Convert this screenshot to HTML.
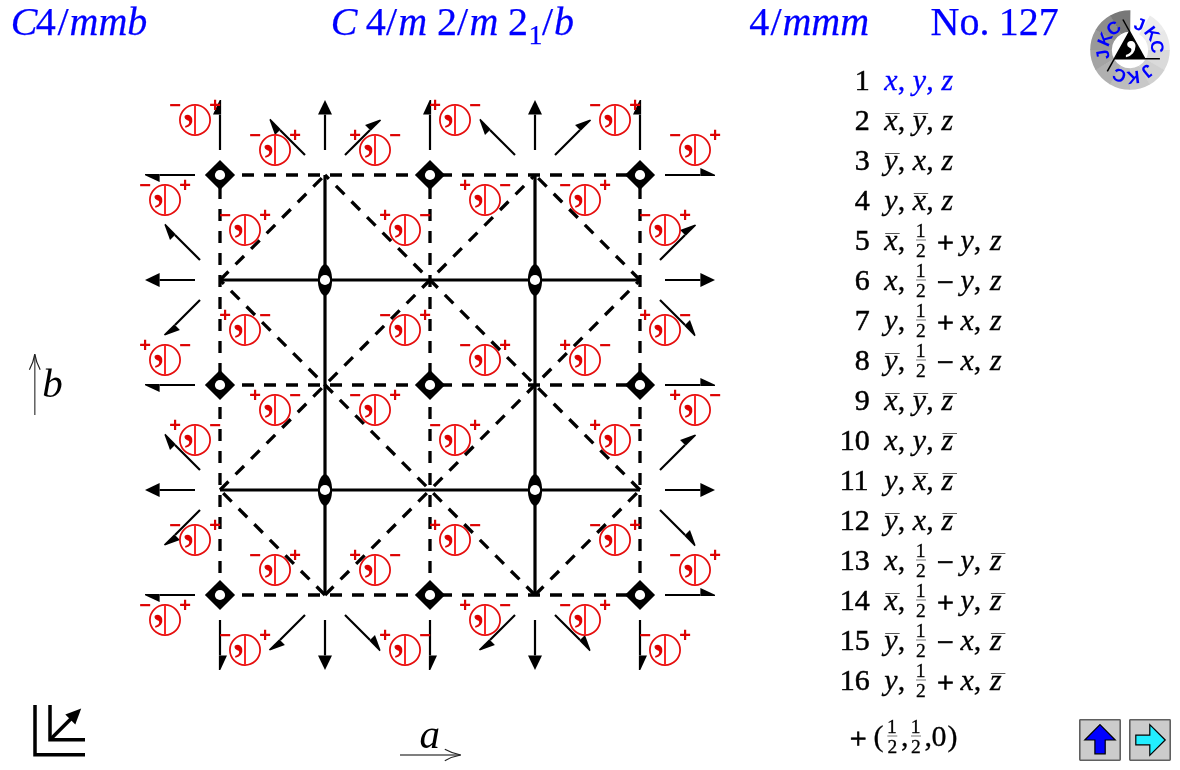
<!DOCTYPE html>
<html lang="en">
<head>
<meta charset="utf-8">
<title>C4/mmb - No. 127</title>
<style>
html,body{margin:0;padding:0;background:#fff;}
body{width:1180px;height:770px;position:relative;overflow:hidden;font-family:"Liberation Serif",serif;}
svg{position:absolute;left:0;top:0;}
</style>
</head>
<body>
<svg width="1180" height="770" viewBox="0 0 1180 770">
<g stroke="#000" stroke-width="3.3" stroke-dasharray="12 10" fill="none">
<line x1="220" y1="175" x2="640" y2="175"/>
<line x1="220" y1="385" x2="640" y2="385"/>
<line x1="220" y1="595" x2="640" y2="595"/>
<line x1="220" y1="595" x2="220" y2="175"/>
<line x1="430" y1="595" x2="430" y2="175"/>
<line x1="640" y1="595" x2="640" y2="175"/>
<line x1="220" y1="280" x2="325" y2="175"/>
<line x1="220" y1="490" x2="535" y2="175"/>
<line x1="325" y1="595" x2="640" y2="280"/>
<line x1="535" y1="595" x2="640" y2="490"/>
<line x1="640" y1="490" x2="325" y2="175"/>
<line x1="640" y1="280" x2="535" y2="175"/>
<line x1="535" y1="595" x2="220" y2="280"/>
<line x1="325" y1="595" x2="220" y2="490"/>
</g>
<g stroke="#000" stroke-width="3.2" fill="none">
<line x1="325" y1="175" x2="325" y2="595"/>
<line x1="535" y1="175" x2="535" y2="595"/>
<line x1="220" y1="280" x2="640" y2="280"/>
<line x1="220" y1="490" x2="640" y2="490"/>
</g>
<line x1="220" y1="150" x2="220" y2="114.6" stroke="#000" stroke-width="2.2"/>
<polygon points="221.1,100 219.7,100 213,114.6 221.1,114.6" fill="#000"/>
<line x1="220" y1="620" x2="220" y2="655.4" stroke="#000" stroke-width="2.2"/>
<polygon points="218.9,670 220.3,670 227,655.4 218.9,655.4" fill="#000"/>
<line x1="325" y1="150" x2="325" y2="114.6" stroke="#000" stroke-width="2.2"/>
<polygon points="325,100 318,114.6 332,114.6" fill="#000"/>
<line x1="325" y1="620" x2="325" y2="655.4" stroke="#000" stroke-width="2.2"/>
<polygon points="325,670 332,655.4 318,655.4" fill="#000"/>
<line x1="430" y1="150" x2="430" y2="114.6" stroke="#000" stroke-width="2.2"/>
<polygon points="431.1,100 429.7,100 423,114.6 431.1,114.6" fill="#000"/>
<line x1="430" y1="620" x2="430" y2="655.4" stroke="#000" stroke-width="2.2"/>
<polygon points="428.9,670 430.3,670 437,655.4 428.9,655.4" fill="#000"/>
<line x1="535" y1="150" x2="535" y2="114.6" stroke="#000" stroke-width="2.2"/>
<polygon points="535,100 528,114.6 542,114.6" fill="#000"/>
<line x1="535" y1="620" x2="535" y2="655.4" stroke="#000" stroke-width="2.2"/>
<polygon points="535,670 542,655.4 528,655.4" fill="#000"/>
<line x1="640" y1="150" x2="640" y2="114.6" stroke="#000" stroke-width="2.2"/>
<polygon points="641.1,100 639.7,100 633,114.6 641.1,114.6" fill="#000"/>
<line x1="640" y1="620" x2="640" y2="655.4" stroke="#000" stroke-width="2.2"/>
<polygon points="638.9,670 640.3,670 647,655.4 638.9,655.4" fill="#000"/>
<line x1="195" y1="175" x2="159.6" y2="175" stroke="#000" stroke-width="2.2"/>
<polygon points="145,173.9 145,175.3 159.6,182 159.6,173.9" fill="#000"/>
<line x1="665" y1="175" x2="700.4" y2="175" stroke="#000" stroke-width="2.2"/>
<polygon points="715,176.1 715,174.7 700.4,168 700.4,176.1" fill="#000"/>
<line x1="195" y1="280" x2="159.6" y2="280" stroke="#000" stroke-width="2.2"/>
<polygon points="145,280 159.6,287 159.6,273" fill="#000"/>
<line x1="665" y1="280" x2="700.4" y2="280" stroke="#000" stroke-width="2.2"/>
<polygon points="715,280 700.4,273 700.4,287" fill="#000"/>
<line x1="195" y1="385" x2="159.6" y2="385" stroke="#000" stroke-width="2.2"/>
<polygon points="145,383.9 145,385.3 159.6,392 159.6,383.9" fill="#000"/>
<line x1="665" y1="385" x2="700.4" y2="385" stroke="#000" stroke-width="2.2"/>
<polygon points="715,386.1 715,384.7 700.4,378 700.4,386.1" fill="#000"/>
<line x1="195" y1="490" x2="159.6" y2="490" stroke="#000" stroke-width="2.2"/>
<polygon points="145,490 159.6,497 159.6,483" fill="#000"/>
<line x1="665" y1="490" x2="700.4" y2="490" stroke="#000" stroke-width="2.2"/>
<polygon points="715,490 700.4,483 700.4,497" fill="#000"/>
<line x1="195" y1="595" x2="159.6" y2="595" stroke="#000" stroke-width="2.2"/>
<polygon points="145,593.9 145,595.3 159.6,602 159.6,593.9" fill="#000"/>
<line x1="665" y1="595" x2="700.4" y2="595" stroke="#000" stroke-width="2.2"/>
<polygon points="715,596.1 715,594.7 700.4,588 700.4,596.1" fill="#000"/>
<line x1="305" y1="155" x2="279.97" y2="129.97" stroke="#000" stroke-width="2.2"/>
<polygon points="270.42,118.87 269.43,119.86 275.02,134.92 280.75,129.19" fill="#000"/>
<line x1="305" y1="615" x2="279.97" y2="640.03" stroke="#000" stroke-width="2.2"/>
<polygon points="268.87,649.58 269.86,650.57 284.92,644.98 279.19,639.25" fill="#000"/>
<line x1="345" y1="155" x2="370.03" y2="129.97" stroke="#000" stroke-width="2.2"/>
<polygon points="381.13,120.42 380.14,119.43 365.08,125.02 370.81,130.75" fill="#000"/>
<line x1="345" y1="615" x2="370.03" y2="640.03" stroke="#000" stroke-width="2.2"/>
<polygon points="379.58,651.13 380.57,650.14 374.98,635.08 369.25,640.81" fill="#000"/>
<line x1="515" y1="155" x2="489.97" y2="129.97" stroke="#000" stroke-width="2.2"/>
<polygon points="480.42,118.87 479.43,119.86 485.02,134.92 490.75,129.19" fill="#000"/>
<line x1="515" y1="615" x2="489.97" y2="640.03" stroke="#000" stroke-width="2.2"/>
<polygon points="478.87,649.58 479.86,650.57 494.92,644.98 489.19,639.25" fill="#000"/>
<line x1="555" y1="155" x2="580.03" y2="129.97" stroke="#000" stroke-width="2.2"/>
<polygon points="591.13,120.42 590.14,119.43 575.08,125.02 580.81,130.75" fill="#000"/>
<line x1="555" y1="615" x2="580.03" y2="640.03" stroke="#000" stroke-width="2.2"/>
<polygon points="589.58,651.13 590.57,650.14 584.98,635.08 579.25,640.81" fill="#000"/>
<line x1="200" y1="260" x2="174.97" y2="234.97" stroke="#000" stroke-width="2.2"/>
<polygon points="165.42,223.87 164.43,224.86 170.02,239.92 175.75,234.19" fill="#000"/>
<line x1="660" y1="260" x2="685.03" y2="234.97" stroke="#000" stroke-width="2.2"/>
<polygon points="696.13,225.42 695.14,224.43 680.08,230.02 685.81,235.75" fill="#000"/>
<line x1="200" y1="300" x2="174.97" y2="325.03" stroke="#000" stroke-width="2.2"/>
<polygon points="163.87,334.58 164.86,335.57 179.92,329.98 174.19,324.25" fill="#000"/>
<line x1="660" y1="300" x2="685.03" y2="325.03" stroke="#000" stroke-width="2.2"/>
<polygon points="694.58,336.13 695.57,335.14 689.98,320.08 684.25,325.81" fill="#000"/>
<line x1="200" y1="470" x2="174.97" y2="444.97" stroke="#000" stroke-width="2.2"/>
<polygon points="165.42,433.87 164.43,434.86 170.02,449.92 175.75,444.19" fill="#000"/>
<line x1="660" y1="470" x2="685.03" y2="444.97" stroke="#000" stroke-width="2.2"/>
<polygon points="696.13,435.42 695.14,434.43 680.08,440.02 685.81,445.75" fill="#000"/>
<line x1="200" y1="510" x2="174.97" y2="535.03" stroke="#000" stroke-width="2.2"/>
<polygon points="163.87,544.58 164.86,545.57 179.92,539.98 174.19,534.25" fill="#000"/>
<line x1="660" y1="510" x2="685.03" y2="535.03" stroke="#000" stroke-width="2.2"/>
<polygon points="694.58,546.13 695.57,545.14 689.98,530.08 684.25,535.81" fill="#000"/>
<polygon points="204.9,175 220,159.9 235.1,175 220,190.1" fill="#000"/>
<circle cx="220" cy="175" r="5.1" fill="#fff"/>
<polygon points="204.9,385 220,369.9 235.1,385 220,400.1" fill="#000"/>
<circle cx="220" cy="385" r="5.1" fill="#fff"/>
<polygon points="204.9,595 220,579.9 235.1,595 220,610.1" fill="#000"/>
<circle cx="220" cy="595" r="5.1" fill="#fff"/>
<polygon points="414.9,175 430,159.9 445.1,175 430,190.1" fill="#000"/>
<circle cx="430" cy="175" r="5.1" fill="#fff"/>
<polygon points="414.9,385 430,369.9 445.1,385 430,400.1" fill="#000"/>
<circle cx="430" cy="385" r="5.1" fill="#fff"/>
<polygon points="414.9,595 430,579.9 445.1,595 430,610.1" fill="#000"/>
<circle cx="430" cy="595" r="5.1" fill="#fff"/>
<polygon points="624.9,175 640,159.9 655.1,175 640,190.1" fill="#000"/>
<circle cx="640" cy="175" r="5.1" fill="#fff"/>
<polygon points="624.9,385 640,369.9 655.1,385 640,400.1" fill="#000"/>
<circle cx="640" cy="385" r="5.1" fill="#fff"/>
<polygon points="624.9,595 640,579.9 655.1,595 640,610.1" fill="#000"/>
<circle cx="640" cy="595" r="5.1" fill="#fff"/>
<path d="M325 264 C334.47 266.43 334.47 293.57 325 296 C315.53 293.57 315.53 266.43 325 264 Z" fill="#000"/>
<circle cx="325" cy="280" r="5.1" fill="#fff"/>
<path d="M325 474 C334.47 476.43 334.47 503.57 325 506 C315.53 503.57 315.53 476.43 325 474 Z" fill="#000"/>
<circle cx="325" cy="490" r="5.1" fill="#fff"/>
<path d="M535 264 C544.47 266.43 544.47 293.57 535 296 C525.53 293.57 525.53 266.43 535 264 Z" fill="#000"/>
<circle cx="535" cy="280" r="5.1" fill="#fff"/>
<path d="M535 474 C544.47 476.43 544.47 503.57 535 506 C525.53 503.57 525.53 476.43 535 474 Z" fill="#000"/>
<circle cx="535" cy="490" r="5.1" fill="#fff"/>
<g fill="none" stroke="#e50d0d" stroke-width="1.75">
<circle cx="195" cy="120" r="15.1"/>
<circle cx="455" cy="120" r="15.1"/>
<circle cx="615" cy="120" r="15.1"/>
<circle cx="275" cy="150" r="15.1"/>
<circle cx="375" cy="150" r="15.1"/>
<circle cx="695" cy="150" r="15.1"/>
<circle cx="165" cy="200" r="15.1"/>
<circle cx="485" cy="200" r="15.1"/>
<circle cx="585" cy="200" r="15.1"/>
<circle cx="245" cy="230" r="15.1"/>
<circle cx="405" cy="230" r="15.1"/>
<circle cx="665" cy="230" r="15.1"/>
<circle cx="245" cy="330" r="15.1"/>
<circle cx="405" cy="330" r="15.1"/>
<circle cx="665" cy="330" r="15.1"/>
<circle cx="165" cy="360" r="15.1"/>
<circle cx="485" cy="360" r="15.1"/>
<circle cx="585" cy="360" r="15.1"/>
<circle cx="275" cy="410" r="15.1"/>
<circle cx="375" cy="410" r="15.1"/>
<circle cx="695" cy="410" r="15.1"/>
<circle cx="195" cy="440" r="15.1"/>
<circle cx="455" cy="440" r="15.1"/>
<circle cx="615" cy="440" r="15.1"/>
<circle cx="195" cy="540" r="15.1"/>
<circle cx="455" cy="540" r="15.1"/>
<circle cx="615" cy="540" r="15.1"/>
<circle cx="275" cy="570" r="15.1"/>
<circle cx="375" cy="570" r="15.1"/>
<circle cx="695" cy="570" r="15.1"/>
<circle cx="165" cy="620" r="15.1"/>
<circle cx="485" cy="620" r="15.1"/>
<circle cx="585" cy="620" r="15.1"/>
<circle cx="245" cy="650" r="15.1"/>
<circle cx="405" cy="650" r="15.1"/>
<circle cx="665" cy="650" r="15.1"/>
</g>
<g fill="none" stroke="#fb2626" stroke-width="2">
<line x1="195" y1="104.9" x2="195" y2="135.1"/>
<line x1="455" y1="104.9" x2="455" y2="135.1"/>
<line x1="615" y1="104.9" x2="615" y2="135.1"/>
<line x1="275" y1="134.9" x2="275" y2="165.1"/>
<line x1="375" y1="134.9" x2="375" y2="165.1"/>
<line x1="695" y1="134.9" x2="695" y2="165.1"/>
<line x1="165" y1="184.9" x2="165" y2="215.1"/>
<line x1="485" y1="184.9" x2="485" y2="215.1"/>
<line x1="585" y1="184.9" x2="585" y2="215.1"/>
<line x1="245" y1="214.9" x2="245" y2="245.1"/>
<line x1="405" y1="214.9" x2="405" y2="245.1"/>
<line x1="665" y1="214.9" x2="665" y2="245.1"/>
<line x1="245" y1="314.9" x2="245" y2="345.1"/>
<line x1="405" y1="314.9" x2="405" y2="345.1"/>
<line x1="665" y1="314.9" x2="665" y2="345.1"/>
<line x1="165" y1="344.9" x2="165" y2="375.1"/>
<line x1="485" y1="344.9" x2="485" y2="375.1"/>
<line x1="585" y1="344.9" x2="585" y2="375.1"/>
<line x1="275" y1="394.9" x2="275" y2="425.1"/>
<line x1="375" y1="394.9" x2="375" y2="425.1"/>
<line x1="695" y1="394.9" x2="695" y2="425.1"/>
<line x1="195" y1="424.9" x2="195" y2="455.1"/>
<line x1="455" y1="424.9" x2="455" y2="455.1"/>
<line x1="615" y1="424.9" x2="615" y2="455.1"/>
<line x1="195" y1="524.9" x2="195" y2="555.1"/>
<line x1="455" y1="524.9" x2="455" y2="555.1"/>
<line x1="615" y1="524.9" x2="615" y2="555.1"/>
<line x1="275" y1="554.9" x2="275" y2="585.1"/>
<line x1="375" y1="554.9" x2="375" y2="585.1"/>
<line x1="695" y1="554.9" x2="695" y2="585.1"/>
<line x1="165" y1="604.9" x2="165" y2="635.1"/>
<line x1="485" y1="604.9" x2="485" y2="635.1"/>
<line x1="585" y1="604.9" x2="585" y2="635.1"/>
<line x1="245" y1="634.9" x2="245" y2="665.1"/>
<line x1="405" y1="634.9" x2="405" y2="665.1"/>
<line x1="665" y1="634.9" x2="665" y2="665.1"/>
</g>
<g fill="#dd0000" font-family="'Liberation Serif', serif" font-size="51">
<text transform="translate(181.7 119.8) skewX(11) scale(1.12 1)">,</text>
<text transform="translate(441.7 119.8) skewX(11) scale(1.12 1)">,</text>
<text transform="translate(601.7 119.8) skewX(11) scale(1.12 1)">,</text>
<text transform="translate(261.7 149.8) skewX(11) scale(1.12 1)">,</text>
<text transform="translate(361.7 149.8) skewX(11) scale(1.12 1)">,</text>
<text transform="translate(681.7 149.8) skewX(11) scale(1.12 1)">,</text>
<text transform="translate(151.7 199.8) skewX(11) scale(1.12 1)">,</text>
<text transform="translate(471.7 199.8) skewX(11) scale(1.12 1)">,</text>
<text transform="translate(571.7 199.8) skewX(11) scale(1.12 1)">,</text>
<text transform="translate(231.7 229.8) skewX(11) scale(1.12 1)">,</text>
<text transform="translate(391.7 229.8) skewX(11) scale(1.12 1)">,</text>
<text transform="translate(651.7 229.8) skewX(11) scale(1.12 1)">,</text>
<text transform="translate(231.7 329.8) skewX(11) scale(1.12 1)">,</text>
<text transform="translate(391.7 329.8) skewX(11) scale(1.12 1)">,</text>
<text transform="translate(651.7 329.8) skewX(11) scale(1.12 1)">,</text>
<text transform="translate(151.7 359.8) skewX(11) scale(1.12 1)">,</text>
<text transform="translate(471.7 359.8) skewX(11) scale(1.12 1)">,</text>
<text transform="translate(571.7 359.8) skewX(11) scale(1.12 1)">,</text>
<text transform="translate(261.7 409.8) skewX(11) scale(1.12 1)">,</text>
<text transform="translate(361.7 409.8) skewX(11) scale(1.12 1)">,</text>
<text transform="translate(681.7 409.8) skewX(11) scale(1.12 1)">,</text>
<text transform="translate(181.7 439.8) skewX(11) scale(1.12 1)">,</text>
<text transform="translate(441.7 439.8) skewX(11) scale(1.12 1)">,</text>
<text transform="translate(601.7 439.8) skewX(11) scale(1.12 1)">,</text>
<text transform="translate(181.7 539.8) skewX(11) scale(1.12 1)">,</text>
<text transform="translate(441.7 539.8) skewX(11) scale(1.12 1)">,</text>
<text transform="translate(601.7 539.8) skewX(11) scale(1.12 1)">,</text>
<text transform="translate(261.7 569.8) skewX(11) scale(1.12 1)">,</text>
<text transform="translate(361.7 569.8) skewX(11) scale(1.12 1)">,</text>
<text transform="translate(681.7 569.8) skewX(11) scale(1.12 1)">,</text>
<text transform="translate(151.7 619.8) skewX(11) scale(1.12 1)">,</text>
<text transform="translate(471.7 619.8) skewX(11) scale(1.12 1)">,</text>
<text transform="translate(571.7 619.8) skewX(11) scale(1.12 1)">,</text>
<text transform="translate(231.7 649.8) skewX(11) scale(1.12 1)">,</text>
<text transform="translate(391.7 649.8) skewX(11) scale(1.12 1)">,</text>
<text transform="translate(651.7 649.8) skewX(11) scale(1.12 1)">,</text>
</g>
<g fill="#dd0000" font-family="'Liberation Sans', sans-serif" font-weight="bold" font-size="20" text-anchor="middle">
<text x="175" y="111.6">−</text>
<text x="215" y="111.6">+</text>
<text x="435" y="111.6">+</text>
<text x="475" y="111.6">−</text>
<text x="595" y="111.6">−</text>
<text x="635" y="111.6">+</text>
<text x="255" y="141.6">−</text>
<text x="295" y="141.6">+</text>
<text x="355" y="141.6">+</text>
<text x="395" y="141.6">−</text>
<text x="675" y="141.6">−</text>
<text x="715" y="141.6">+</text>
<text x="145" y="191.6">−</text>
<text x="185" y="191.6">+</text>
<text x="465" y="191.6">+</text>
<text x="505" y="191.6">−</text>
<text x="565" y="191.6">−</text>
<text x="605" y="191.6">+</text>
<text x="225" y="221.6">−</text>
<text x="265" y="221.6">+</text>
<text x="385" y="221.6">+</text>
<text x="425" y="221.6">−</text>
<text x="645" y="221.6">−</text>
<text x="685" y="221.6">+</text>
<text x="225" y="321.6">+</text>
<text x="265" y="321.6">−</text>
<text x="385" y="321.6">−</text>
<text x="425" y="321.6">+</text>
<text x="645" y="321.6">+</text>
<text x="685" y="321.6">−</text>
<text x="145" y="351.6">+</text>
<text x="185" y="351.6">−</text>
<text x="465" y="351.6">−</text>
<text x="505" y="351.6">+</text>
<text x="565" y="351.6">+</text>
<text x="605" y="351.6">−</text>
<text x="255" y="401.6">+</text>
<text x="295" y="401.6">−</text>
<text x="355" y="401.6">−</text>
<text x="395" y="401.6">+</text>
<text x="675" y="401.6">+</text>
<text x="715" y="401.6">−</text>
<text x="175" y="431.6">+</text>
<text x="215" y="431.6">−</text>
<text x="435" y="431.6">−</text>
<text x="475" y="431.6">+</text>
<text x="595" y="431.6">+</text>
<text x="635" y="431.6">−</text>
<text x="175" y="531.6">−</text>
<text x="215" y="531.6">+</text>
<text x="435" y="531.6">+</text>
<text x="475" y="531.6">−</text>
<text x="595" y="531.6">−</text>
<text x="635" y="531.6">+</text>
<text x="255" y="561.6">−</text>
<text x="295" y="561.6">+</text>
<text x="355" y="561.6">+</text>
<text x="395" y="561.6">−</text>
<text x="675" y="561.6">−</text>
<text x="715" y="561.6">+</text>
<text x="145" y="611.6">−</text>
<text x="185" y="611.6">+</text>
<text x="465" y="611.6">+</text>
<text x="505" y="611.6">−</text>
<text x="565" y="611.6">−</text>
<text x="605" y="611.6">+</text>
<text x="225" y="641.6">−</text>
<text x="265" y="641.6">+</text>
<text x="385" y="641.6">+</text>
<text x="425" y="641.6">−</text>
<text x="645" y="641.6">−</text>
<text x="685" y="641.6">+</text>
</g>
<g fill="#0000ff" stroke="#0000ff" stroke-width="0.25" font-family="'Liberation Serif', serif" font-size="40">
<text y="35.2"><tspan x="10.7" font-style="italic">C</tspan><tspan x="35.8">4</tspan><tspan x="57.5">/</tspan><tspan x="69.5" font-style="italic">mmb</tspan></text>
<text y="35.2"><tspan x="330.8" font-style="italic">C</tspan> <tspan x="365.8">4</tspan><tspan x="386">/</tspan><tspan x="398.3" font-style="italic">m</tspan> <tspan x="437">2</tspan><tspan x="457">/</tspan><tspan x="469.5" font-style="italic">m</tspan> <tspan x="508">2</tspan><tspan x="528.5" dy="9" font-size="28">1</tspan><tspan x="542" dy="-9">/</tspan><tspan x="554" font-style="italic">b</tspan></text>
<text y="35.2"><tspan x="749.2">4</tspan><tspan x="770.5">/</tspan><tspan x="782.4" font-style="italic">mmm</tspan></text>
<text y="35.2"><tspan x="930.6">No.</tspan> <tspan x="998.8">127</tspan></text>
</g>
<text y="90" fill="#0000ff" stroke="#0000ff" stroke-width="0.3" font-family="'Liberation Serif', serif" font-size="30"><tspan x="854.7" fill="#000" stroke="#000" stroke-width="0.5">1</tspan>  <tspan x="884.3" font-style="italic">x</tspan>, <tspan x="912.8" font-style="italic">y</tspan>, <tspan x="941.6" font-style="italic">z</tspan></text>
<text y="130" fill="#000" stroke="#000" stroke-width="0.3" font-family="'Liberation Serif', serif" font-size="30"><tspan x="854.7" fill="#000" stroke="#000" stroke-width="0.5">2</tspan>  <tspan x="884.3" font-style="italic">x</tspan>, <tspan x="912.8" font-style="italic">y</tspan>, <tspan x="941.6" font-style="italic">z</tspan></text>
<text y="170" fill="#000" stroke="#000" stroke-width="0.3" font-family="'Liberation Serif', serif" font-size="30"><tspan x="854.7" fill="#000" stroke="#000" stroke-width="0.5">3</tspan>  <tspan x="884.3" font-style="italic">y</tspan>, <tspan x="912.8" font-style="italic">x</tspan>, <tspan x="941.6" font-style="italic">z</tspan></text>
<text y="210" fill="#000" stroke="#000" stroke-width="0.3" font-family="'Liberation Serif', serif" font-size="30"><tspan x="854.7" fill="#000" stroke="#000" stroke-width="0.5">4</tspan>  <tspan x="884.3" font-style="italic">y</tspan>, <tspan x="912.8" font-style="italic">x</tspan>, <tspan x="941.6" font-style="italic">z</tspan></text>
<text y="250" fill="#000" stroke="#000" stroke-width="0.3" font-family="'Liberation Serif', serif" font-size="30"><tspan x="854.7" fill="#000" stroke="#000" stroke-width="0.5">5</tspan>  <tspan x="884.3" font-style="italic">x</tspan>, <tspan x="915.83" dy="-13.2" font-size="19.5" stroke-width="0.3">1</tspan><tspan x="916.12" dy="20.5" font-size="19.5" stroke-width="0.3">2</tspan> <tspan x="937.1" dy="-5.1" stroke-width="0.7">+</tspan> <tspan x="960.5" dy="-2.2" font-style="italic">y</tspan>, <tspan x="990" font-style="italic">z</tspan></text>
<text y="290" fill="#000" stroke="#000" stroke-width="0.3" font-family="'Liberation Serif', serif" font-size="30"><tspan x="854.7" fill="#000" stroke="#000" stroke-width="0.5">6</tspan>  <tspan x="884.3" font-style="italic">x</tspan>, <tspan x="915.83" dy="-13.2" font-size="19.5" stroke-width="0.3">1</tspan><tspan x="916.12" dy="20.5" font-size="19.5" stroke-width="0.3">2</tspan> <tspan x="937.1" dy="-5.1" stroke-width="0.7">−</tspan> <tspan x="960.5" dy="-2.2" font-style="italic">y</tspan>, <tspan x="990" font-style="italic">z</tspan></text>
<text y="330" fill="#000" stroke="#000" stroke-width="0.3" font-family="'Liberation Serif', serif" font-size="30"><tspan x="854.7" fill="#000" stroke="#000" stroke-width="0.5">7</tspan>  <tspan x="884.3" font-style="italic">y</tspan>, <tspan x="915.83" dy="-13.2" font-size="19.5" stroke-width="0.3">1</tspan><tspan x="916.12" dy="20.5" font-size="19.5" stroke-width="0.3">2</tspan> <tspan x="937.1" dy="-5.1" stroke-width="0.7">+</tspan> <tspan x="960.5" dy="-2.2" font-style="italic">x</tspan>, <tspan x="990" font-style="italic">z</tspan></text>
<text y="370" fill="#000" stroke="#000" stroke-width="0.3" font-family="'Liberation Serif', serif" font-size="30"><tspan x="854.7" fill="#000" stroke="#000" stroke-width="0.5">8</tspan>  <tspan x="884.3" font-style="italic">y</tspan>, <tspan x="915.83" dy="-13.2" font-size="19.5" stroke-width="0.3">1</tspan><tspan x="916.12" dy="20.5" font-size="19.5" stroke-width="0.3">2</tspan> <tspan x="937.1" dy="-5.1" stroke-width="0.7">−</tspan> <tspan x="960.5" dy="-2.2" font-style="italic">x</tspan>, <tspan x="990" font-style="italic">z</tspan></text>
<text y="410" fill="#000" stroke="#000" stroke-width="0.3" font-family="'Liberation Serif', serif" font-size="30"><tspan x="854.7" fill="#000" stroke="#000" stroke-width="0.5">9</tspan>  <tspan x="884.3" font-style="italic">x</tspan>, <tspan x="912.8" font-style="italic">y</tspan>, <tspan x="941.6" font-style="italic">z</tspan></text>
<text y="450" fill="#000" stroke="#000" stroke-width="0.3" font-family="'Liberation Serif', serif" font-size="30"><tspan x="839.7" fill="#000" stroke="#000" stroke-width="0.5">10</tspan>  <tspan x="884.3" font-style="italic">x</tspan>, <tspan x="912.8" font-style="italic">y</tspan>, <tspan x="941.6" font-style="italic">z</tspan></text>
<text y="490" fill="#000" stroke="#000" stroke-width="0.3" font-family="'Liberation Serif', serif" font-size="30"><tspan x="839.7" fill="#000" stroke="#000" stroke-width="0.5">11</tspan>  <tspan x="884.3" font-style="italic">y</tspan>, <tspan x="912.8" font-style="italic">x</tspan>, <tspan x="941.6" font-style="italic">z</tspan></text>
<text y="530" fill="#000" stroke="#000" stroke-width="0.3" font-family="'Liberation Serif', serif" font-size="30"><tspan x="839.7" fill="#000" stroke="#000" stroke-width="0.5">12</tspan>  <tspan x="884.3" font-style="italic">y</tspan>, <tspan x="912.8" font-style="italic">x</tspan>, <tspan x="941.6" font-style="italic">z</tspan></text>
<text y="570" fill="#000" stroke="#000" stroke-width="0.3" font-family="'Liberation Serif', serif" font-size="30"><tspan x="839.7" fill="#000" stroke="#000" stroke-width="0.5">13</tspan>  <tspan x="884.3" font-style="italic">x</tspan>, <tspan x="915.83" dy="-13.2" font-size="19.5" stroke-width="0.3">1</tspan><tspan x="916.12" dy="20.5" font-size="19.5" stroke-width="0.3">2</tspan> <tspan x="937.1" dy="-5.1" stroke-width="0.7">−</tspan> <tspan x="960.5" dy="-2.2" font-style="italic">y</tspan>, <tspan x="990" font-style="italic">z</tspan></text>
<text y="610" fill="#000" stroke="#000" stroke-width="0.3" font-family="'Liberation Serif', serif" font-size="30"><tspan x="839.7" fill="#000" stroke="#000" stroke-width="0.5">14</tspan>  <tspan x="884.3" font-style="italic">x</tspan>, <tspan x="915.83" dy="-13.2" font-size="19.5" stroke-width="0.3">1</tspan><tspan x="916.12" dy="20.5" font-size="19.5" stroke-width="0.3">2</tspan> <tspan x="937.1" dy="-5.1" stroke-width="0.7">+</tspan> <tspan x="960.5" dy="-2.2" font-style="italic">y</tspan>, <tspan x="990" font-style="italic">z</tspan></text>
<text y="650" fill="#000" stroke="#000" stroke-width="0.3" font-family="'Liberation Serif', serif" font-size="30"><tspan x="839.7" fill="#000" stroke="#000" stroke-width="0.5">15</tspan>  <tspan x="884.3" font-style="italic">y</tspan>, <tspan x="915.83" dy="-13.2" font-size="19.5" stroke-width="0.3">1</tspan><tspan x="916.12" dy="20.5" font-size="19.5" stroke-width="0.3">2</tspan> <tspan x="937.1" dy="-5.1" stroke-width="0.7">−</tspan> <tspan x="960.5" dy="-2.2" font-style="italic">x</tspan>, <tspan x="990" font-style="italic">z</tspan></text>
<text y="690" fill="#000" stroke="#000" stroke-width="0.3" font-family="'Liberation Serif', serif" font-size="30"><tspan x="839.7" fill="#000" stroke="#000" stroke-width="0.5">16</tspan>  <tspan x="884.3" font-style="italic">y</tspan>, <tspan x="915.83" dy="-13.2" font-size="19.5" stroke-width="0.3">1</tspan><tspan x="916.12" dy="20.5" font-size="19.5" stroke-width="0.3">2</tspan> <tspan x="937.1" dy="-5.1" stroke-width="0.7">+</tspan> <tspan x="960.5" dy="-2.2" font-style="italic">x</tspan>, <tspan x="990" font-style="italic">z</tspan></text>
<text y="746" fill="#000" stroke="#000" stroke-width="0.3" font-family="'Liberation Serif', serif" font-size="30"><tspan x="849.8" dy="2.2" stroke-width="0.7">+</tspan> <tspan x="873.5" dy="-2.2">(</tspan><tspan x="887.12" dy="-13.2" font-size="19.5" stroke-width="0.3">1</tspan><tspan x="887.42" dy="20.5" font-size="19.5" stroke-width="0.3">2</tspan><tspan x="901" dy="-7.3">,</tspan><tspan x="910.83" dy="-13.2" font-size="19.5" stroke-width="0.3">1</tspan><tspan x="911.12" dy="20.5" font-size="19.5" stroke-width="0.3">2</tspan><tspan x="924.5" dy="-7.3">,</tspan><tspan x="931.5">0</tspan><tspan x="947.5">)</tspan></text>
<g stroke="#585858" stroke-width="1">
<line x1="885.2" y1="113.5" x2="899.7" y2="113.5"/>
<line x1="913.7" y1="113.5" x2="928.2" y2="113.5"/>
<line x1="885.2" y1="153.5" x2="899.7" y2="153.5"/>
<line x1="913.7" y1="193.5" x2="928.2" y2="193.5"/>
<line x1="885.2" y1="233.5" x2="899.7" y2="233.5"/>
<line x1="885.2" y1="353.5" x2="899.7" y2="353.5"/>
<line x1="885.2" y1="393.5" x2="899.7" y2="393.5"/>
<line x1="913.7" y1="393.5" x2="928.2" y2="393.5"/>
<line x1="942.5" y1="393.5" x2="957" y2="393.5"/>
<line x1="942.5" y1="433.5" x2="957" y2="433.5"/>
<line x1="913.7" y1="473.5" x2="928.2" y2="473.5"/>
<line x1="942.5" y1="473.5" x2="957" y2="473.5"/>
<line x1="885.2" y1="513.5" x2="899.7" y2="513.5"/>
<line x1="942.5" y1="513.5" x2="957" y2="513.5"/>
<line x1="990.9" y1="553.5" x2="1005.4" y2="553.5"/>
<line x1="885.2" y1="593.5" x2="899.7" y2="593.5"/>
<line x1="990.9" y1="593.5" x2="1005.4" y2="593.5"/>
<line x1="885.2" y1="633.5" x2="899.7" y2="633.5"/>
<line x1="990.9" y1="633.5" x2="1005.4" y2="633.5"/>
<line x1="990.9" y1="673.5" x2="1005.4" y2="673.5"/>
</g>
<g stroke="#aaa" stroke-width="1.6">
<line x1="916" y1="240" x2="926" y2="240"/>
<line x1="916" y1="280" x2="926" y2="280"/>
<line x1="916" y1="320" x2="926" y2="320"/>
<line x1="916" y1="360" x2="926" y2="360"/>
<line x1="916" y1="560" x2="926" y2="560"/>
<line x1="916" y1="600" x2="926" y2="600"/>
<line x1="916" y1="640" x2="926" y2="640"/>
<line x1="916" y1="680" x2="926" y2="680"/>
<line x1="887.3" y1="736" x2="897.3" y2="736"/>
<line x1="911" y1="736" x2="921" y2="736"/>
</g>
<g stroke="#555" stroke-width="1.4" fill="none">
<line x1="34.8" y1="354.5" x2="34.8" y2="415"/>
<path d="M29.4 369.8 Q33.6 362 34.8 354.2 Q36 362 40.2 369.8" stroke="#222" stroke-width="1.2"/>
<line x1="400" y1="755" x2="460.5" y2="755"/>
<path d="M444.8 749.3 Q452.5 753.6 460.8 755 Q452.5 756.4 444.8 760.7" stroke="#222" stroke-width="1.2"/>
</g>
<g fill="#000" font-family="'Liberation Serif', serif" font-size="41" font-style="italic">
<text x="42.3" y="396.8">b</text>
<text x="419.5" y="747.5">a</text>
</g>
<g stroke="#000" stroke-width="3.5" fill="none" stroke-linejoin="miter">
<path d="M35 705 V754.8 H85"/>
<path d="M50 705 V739.7 H85"/>
<line x1="50" y1="739.7" x2="71.5" y2="718.3"/>
</g>
<polygon points="81.2,708.6 65.3,714.6 75.3,724.5" fill="#000"/>
<rect x="1079.8" y="719.8" width="40.4" height="40.4" fill="#cccccc" stroke="#606060" stroke-width="1.6" rx="0.6"/>
<rect x="1129.8" y="719.8" width="40.4" height="40.4" fill="#cccccc" stroke="#606060" stroke-width="1.6" rx="0.6"/>
<polygon points="1100,724.6 1115.2,740 1105.2,740 1105.2,753.8 1094.9,753.8 1094.9,740 1084.8,740" fill="#0000ff" stroke="#000" stroke-width="1.2" stroke-linejoin="miter"/>
<polygon points="1165.2,740 1149.8,724.6 1149.8,735.2 1135.8,735.2 1135.8,744.8 1149.8,744.8 1149.8,755.4" fill="#22eeff" stroke="#000" stroke-width="1.2" stroke-linejoin="miter"/>
<path d="M1130 10.2 A39.8 39.8 0 0 1 1150.26 15.74 L1139.26 34.33 A18.2 18.2 0 0 0 1130 31.8 Z" fill="#ffffff"/>
<path d="M1149.9 15.53 A39.8 39.8 0 0 1 1164.67 30.46 L1145.86 41.07 A18.2 18.2 0 0 0 1139.1 34.24 Z" fill="#ececec"/>
<path d="M1164.47 30.1 A39.8 39.8 0 0 1 1169.8 50.42 L1148.2 50.19 A18.2 18.2 0 0 0 1145.76 40.9 Z" fill="#e8e8e8"/>
<path d="M1169.8 50 A39.8 39.8 0 0 1 1164.26 70.26 L1145.67 59.26 A18.2 18.2 0 0 0 1148.2 50 Z" fill="#dadada"/>
<path d="M1164.47 69.9 A39.8 39.8 0 0 1 1149.54 84.67 L1138.93 65.86 A18.2 18.2 0 0 0 1145.76 59.1 Z" fill="#d0d0d0"/>
<path d="M1149.9 84.47 A39.8 39.8 0 0 1 1129.58 89.8 L1129.81 68.2 A18.2 18.2 0 0 0 1139.1 65.76 Z" fill="#c8c8c8"/>
<path d="M1130 89.8 A39.8 39.8 0 0 1 1109.74 84.26 L1120.74 65.67 A18.2 18.2 0 0 0 1130 68.2 Z" fill="#bcbcbc"/>
<path d="M1110.1 84.47 A39.8 39.8 0 0 1 1095.33 69.54 L1114.14 58.93 A18.2 18.2 0 0 0 1120.9 65.76 Z" fill="#b0b0b0"/>
<path d="M1095.53 69.9 A39.8 39.8 0 0 1 1090.2 49.58 L1111.8 49.81 A18.2 18.2 0 0 0 1114.24 59.1 Z" fill="#a4a4a4"/>
<path d="M1090.2 50 A39.8 39.8 0 0 1 1095.74 29.74 L1114.33 40.74 A18.2 18.2 0 0 0 1111.8 50 Z" fill="#999999"/>
<path d="M1095.53 30.1 A39.8 39.8 0 0 1 1110.46 15.33 L1121.07 34.14 A18.2 18.2 0 0 0 1114.24 40.9 Z" fill="#8c8c8c"/>
<path d="M1110.1 15.53 A39.8 39.8 0 0 1 1130.42 10.2 L1130.19 31.8 A18.2 18.2 0 0 0 1120.9 34.24 Z" fill="#787878"/>
<polygon points="1129.4,31.8 1144.9,58.8 1114.5,58.8" fill="#000"/>
<g stroke="#000" stroke-width="1.5">
<line x1="1122.9" y1="19.5" x2="1144.9" y2="58.8"/>
<line x1="1114.5" y1="58.8" x2="1159.9" y2="58.8"/>
<line x1="1129.4" y1="31.8" x2="1107.3" y2="71.4"/>
</g>
<text x="1123.4" y="47.5" fill="#fff" font-family="'Liberation Serif', serif" font-size="64">,</text>
<g fill="#0000ff" font-family="'Liberation Sans', sans-serif" font-weight="bold" font-size="18">
<text x="1109.82 1107.88 1111.99" y="58.45 47.47 36.9" rotate="-99.5 -66.5 -37">JKC</text>
<text x="1132.77 1143.26 1150.35" y="28.3 32.11 40.95" rotate="20.5 53.5 83">JKC</text>
<text x="1147.41 1138.87 1127.66" y="63.25 70.43 72.15" rotate="140.5 173.5 203">JKC</text>
</g>
</svg>
</body>
</html>
